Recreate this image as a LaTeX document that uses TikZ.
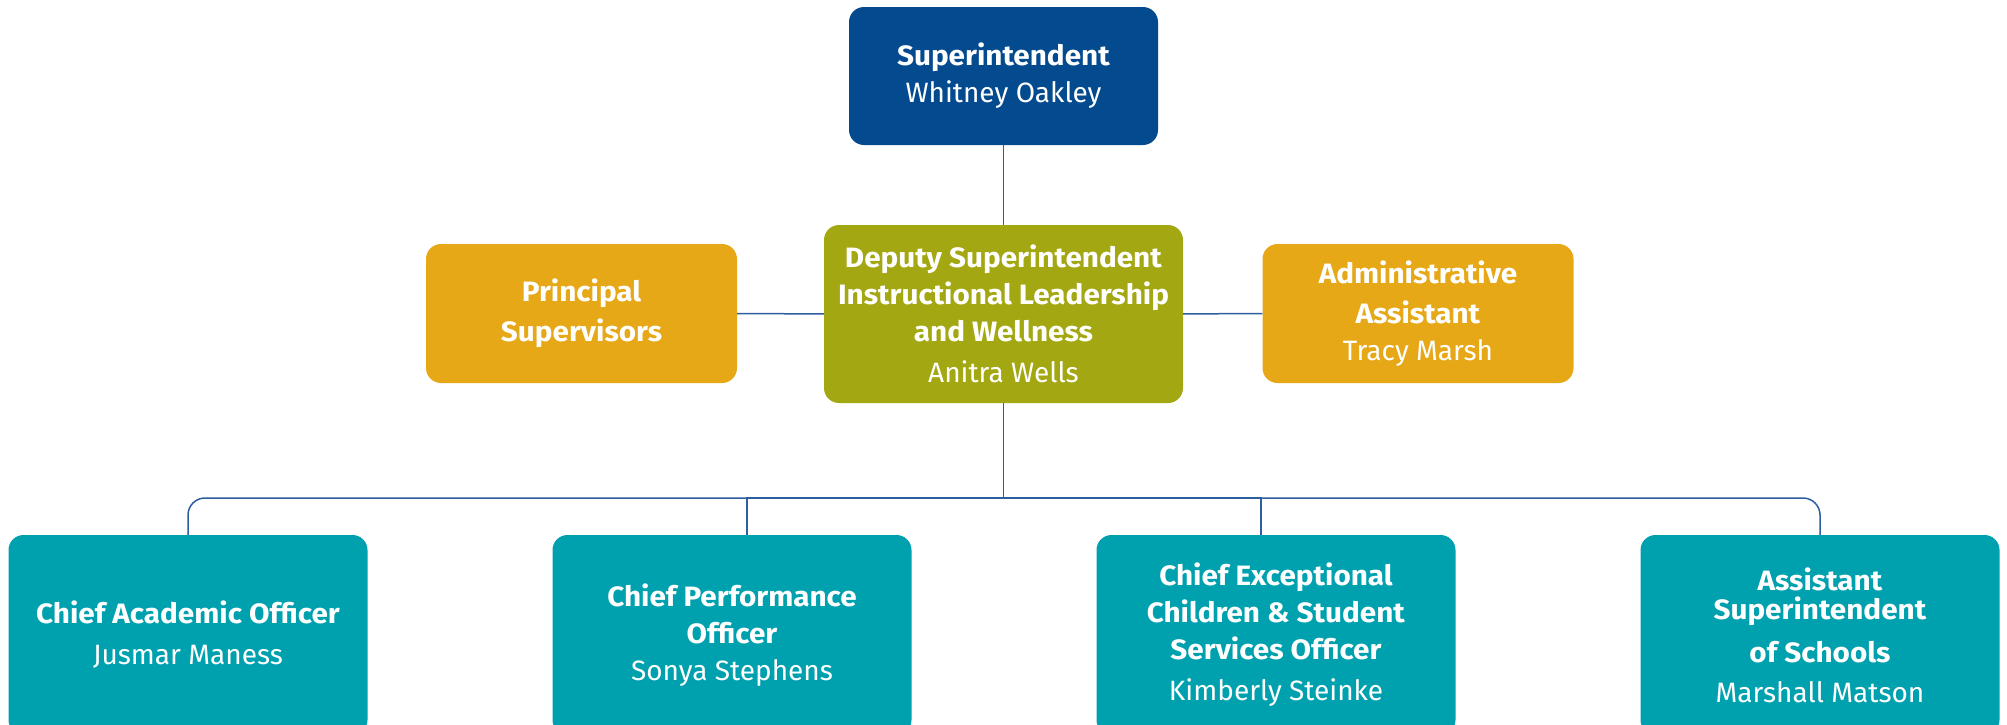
\documentclass[tikz,border=0pt]{standalone}
\usepackage{fontspec}
\setmainfont{Fira Sans}[BoldFeatures={FakeStretch=1.06}]
\definecolor{supblue}{HTML}{034A8E}
\definecolor{depolive}{HTML}{A3A711}
\definecolor{staffgold}{HTML}{E6A817}
\definecolor{chiefteal}{HTML}{00A1AF}
\definecolor{linkblue}{HTML}{2D5E9E}
\begin{document}
\begin{tikzpicture}[x=1pt,y=-1pt,
    box/.style={rounded corners=15pt, text=white, align=center, inner sep=0pt,
        font=\fontsize{28}{37}\selectfont},
    supbox/.style={box, fill=supblue, minimum width=309pt, minimum height=138pt},
    depbox/.style={box, fill=depolive, minimum width=359pt, minimum height=178pt},
    staffbox/.style={box, fill=staffgold, minimum width=311pt, minimum height=139pt},
    chiefbox/.style={box, fill=chiefteal, minimum width=359pt, minimum height=200pt},
    link/.style={draw=linkblue, line width=1.5pt}]
    \useasboundingbox (0,0) rectangle (2007,724);
    \node[supbox] (sup) at (1003.5,76) {\textbf{Superintendent}\\Whitney Oakley};
    \node[depbox] (dep) at (1003.5,314) {\textbf{Deputy Superintendent}\\\textbf{Instructional Leadership}\\\textbf{and Wellness}\\[4pt]Anitra Wells};
    \node[staffbox] (prin) at (581.5,313.5) {\textbf{Principal}\\[3pt]\textbf{Supervisors}};
    \node[staffbox] (adm) at (1418,313.5) {\textbf{Administrative}\\[3pt]\textbf{Assistant}\\Tracy Marsh};
    \node[chiefbox] (c1) at (188,635) {\textbf{Chief Academic Officer}\\[4pt]Jusmar Maness};
    \node[chiefbox] (c2) at (732,635) {\textbf{Chief Performance}\\\textbf{Officer}\\Sonya Stephens};
    \node[chiefbox] (c3) at (1276,635) {\textbf{Chief Exceptional}\\\textbf{Children \& Student}\\\textbf{Services Officer}\\[4pt]Kimberly Steinke};
    \node[chiefbox] (c4) at (1820,635) {\textbf{Assistant}\\[-8pt]\textbf{Superintendent}\\[6pt]\textbf{of Schools}\\[3pt]Marshall Matson};
    \coordinate (bus) at (1003.5,498);
    % reporting lines
    \draw[link] (sup) -- (dep);
    \draw[link] (prin) -- (dep) -- (adm);
    \draw[link] (dep) -- (bus);
    \draw[link, rounded corners=17pt] (c1.north) |- (bus) -| (c4.north);
    \draw[link] ([xshift=15pt]c2.north) |- (bus);
    \draw[link] ([xshift=-15pt]c3.north) |- (bus);
\end{tikzpicture}
\end{document}
